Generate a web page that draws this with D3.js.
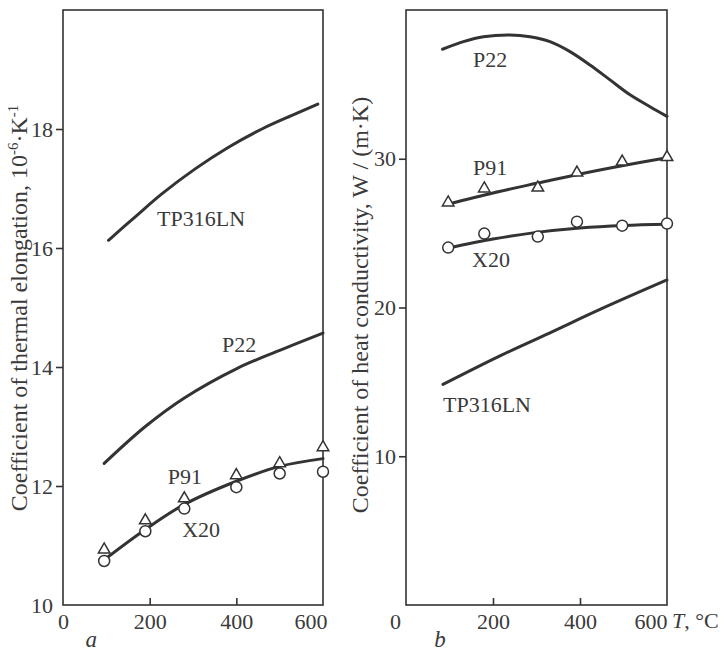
<!DOCTYPE html>
<html>
<head>
<meta charset="utf-8">
<script src="https://cdn.jsdelivr.net/npm/d3@7"></script>
<style>
  body { margin: 0; background: #fff; }
  text { font-family: "Liberation Serif", "DejaVu Serif", serif; fill: #3a3a3a; }
</style>
</head>
<body>
<div id="chart"></div>
<script>
// ---- data ----
// panel a: thermal elongation, 10^-6 K^-1
var tpTempA  = [105, 166, 228, 305, 381, 459, 535, 588];
var tpValA   = [16.13, 16.52, 16.91, 17.33, 17.69, 18.0, 18.25, 18.42];
var p22TempA = [95, 190, 280, 400, 500, 600];
var p22ValA  = [12.38, 13.0, 13.48, 13.97, 14.28, 14.57];
var fitTempA = [95, 190, 280, 400, 500, 600];
var fitValA  = [10.76, 11.27, 11.69, 12.08, 12.33, 12.46];
var markTempA = [95, 190, 280, 400, 500, 600];
var p91ValA  = [10.93, 11.42, 11.79, 12.18, 12.38, 12.65];
var x20ValA  = [10.74, 11.24, 11.62, 11.98, 12.21, 12.24];

// panel b: heat conductivity, W/(m K)
var p22TempB = [84, 132, 178, 239, 285, 331, 377, 423, 469, 515, 561, 600];
var p22ValB  = [37.36, 37.87, 38.2, 38.32, 38.2, 37.87, 37.2, 36.3, 35.3, 34.3, 33.5, 32.85];
var tpTempB  = [85, 216, 331, 446, 600];
var tpValB   = [14.83, 16.75, 18.3, 19.87, 21.85];
var fitTemp  = [97, 200, 300, 400, 500, 600];
var p91FitB  = [26.95, 27.7, 28.35, 28.98, 29.55, 30.07];
var x20FitB  = [24.0, 24.6, 25.05, 25.35, 25.52, 25.6];
var markTempB = [97, 180, 303, 393, 497, 600];
var p91ValB  = [27.05, 27.99, 28.05, 29.06, 29.8, 30.1];
var x20ValB  = [24.03, 24.97, 24.77, 25.77, 25.5, 25.64];

var xTicks = [0, 200, 400, 600];
var yTicksA = [10, 12, 14, 16, 18];
var yTicksB = [10, 20, 30];

var ink = "#333";
var width = 727, height = 654;
var plotTop = 10, plotBottom = 605;

var svg = d3.select("#chart")
  .append("svg")
    .attr("width", width)
    .attr("height", height);

function zip(xs, ys) {
  return xs.map(function (d, i) { return [d, ys[i]]; });
}

function drawPanel(p) {
  var x = d3.scaleLinear().domain([0, 600]).range([p.left, p.right]);
  var y = d3.scaleLinear().domain(p.yDomain).range([plotBottom, plotTop]);
  var g = svg.append("g");

  // frame
  g.append("rect")
    .attr("x", p.left).attr("y", plotTop)
    .attr("width", p.right - p.left).attr("height", plotBottom - plotTop)
    .attr("fill", "none").attr("stroke", ink).attr("stroke-width", 1.6);

  // X axis, ticks pointing in
  var xa = g.append("g")
    .attr("transform", "translate(0," + plotBottom + ")")
    .call(d3.axisBottom(x).tickValues(xTicks).tickSizeInner(-7).tickSizeOuter(0).tickPadding(8));
  xa.select(".domain").remove();
  xa.selectAll("line").attr("stroke", ink).attr("stroke-width", 1.6);
  xa.selectAll(".tick").filter(function (d) { return d === 0 || d === 600; }).select("line").remove();
  xa.selectAll("text").attr("font-size", 22).attr("fill", "#3a3a3a").attr("font-family", null);
  xa.selectAll(".tick").filter(function (d) { return d === 600; }).select("text")
    .attr("text-anchor", "end").attr("dx", p.endShift);
  xa.selectAll(".tick").filter(function (d) { return d === 0; }).select("text")
    .attr("dx", p.zeroShift);

  // Y axis
  var ya = g.append("g")
    .attr("transform", "translate(" + p.left + ",0)")
    .call(d3.axisLeft(y).tickValues(p.yTicks).tickSizeOuter(0).tickSize(7).tickPadding(3));
  ya.select(".domain").remove();
  ya.selectAll("line").attr("stroke", ink).attr("stroke-width", 1.6);
  ya.selectAll(".tick").filter(function (d) { return d === p.yDomain[0]; }).select("line").remove();
  ya.selectAll("text").attr("font-size", 22).attr("fill", "#3a3a3a").attr("font-family", null);

  var line = d3.line()
    .x(function (d) { return x(d[0]); })
    .y(function (d) { return y(d[1]); })
    .curve(d3.curveCatmullRom.alpha(0.5));

  p.curves.forEach(function (c) {
    g.append("path")
      .datum(c)
      .attr("d", line)
      .attr("fill", "none")
      .attr("stroke", ink)
      .attr("stroke-width", 3)
      .attr("stroke-linecap", "round");
  });

  // triangles
  g.selectAll(null)
    .data(p.triangles)
    .enter()
    .append("path")
      .attr("d", d3.symbol(d3.symbolTriangle).size(58))
      .attr("transform", function (d) { return "translate(" + x(d[0]) + "," + y(d[1]) + ")"; })
      .attr("fill", "#fff").attr("stroke", ink).attr("stroke-width", 1.5);

  // circles
  g.selectAll(null)
    .data(p.circles)
    .enter()
    .append("circle")
      .attr("cx", function (d) { return x(d[0]); })
      .attr("cy", function (d) { return y(d[1]); })
      .attr("r", 5.5)
      .attr("fill", "#fff").attr("stroke", ink).attr("stroke-width", 1.5);

  // curve labels
  p.labels.forEach(function (l) {
    g.append("text")
      .attr("x", x(l[1]))
      .attr("y", y(l[2]))
      .attr("font-size", 22)
      .text(l[0]);
  });

  // Y axis title
  var t = g.append("text")
    .attr("transform", "translate(" + p.titleX + "," + p.titleY + ") rotate(-90)")
    .attr("text-anchor", "middle")
    .attr("font-size", 24);
  p.title(t);

  // panel letter
  g.append("text")
    .attr("x", x(p.letterAt))
    .attr("y", 647)
    .attr("text-anchor", "middle")
    .attr("font-size", 23)
    .attr("font-style", "italic")
    .text(p.letter);

  return x;
}

drawPanel({
  left: 63, right: 323,
  yDomain: [10, 20], yTicks: yTicksA,
  zeroShift: 0, endShift: 4,
  curves: [zip(tpTempA, tpValA), zip(p22TempA, p22ValA), zip(fitTempA, fitValA)],
  triangles: zip(markTempA, p91ValA),
  circles: zip(markTempA, x20ValA),
  labels: [["TP316LN", 217, 16.37], ["P22", 367, 14.25], ["P91", 242, 12.03], ["X20", 275, 11.14]],
  titleX: 27, titleY: 308,
  title: function (t) {
    t.append("tspan").text("Coefficient of thermal elongation, 10");
    t.append("tspan").attr("dy", -9).attr("font-size", 15).text("-6");
    t.append("tspan").attr("dy", 9).text("\u00b7K");
    t.append("tspan").attr("dy", -9).attr("font-size", 15).text("-1");
  },
  letter: "a", letterAt: 65
});

var xB = drawPanel({
  left: 406, right: 667,
  yDomain: [0, 40], yTicks: yTicksB,
  zeroShift: -11, endShift: 0,
  curves: [zip(p22TempB, p22ValB), zip(tpTempB, tpValB), zip(fitTemp, p91FitB), zip(fitTemp, x20FitB)],
  triangles: zip(markTempB, p91ValB),
  circles: zip(markTempB, x20ValB),
  labels: [["P22", 154, 36.17], ["P91", 154, 28.93], ["X20", 152, 22.75], ["TP316LN", 85, 12.95]],
  titleX: 368, titleY: 305,
  title: function (t) {
    t.text("Coefficient of heat conductivity, W / (m\u00b7K)");
  },
  letter: "b", letterAt: 78
});

// X axis unit after the last tick of panel b
var unit = svg.append("text")
  .attr("x", xB(600) + 5)
  .attr("y", 628)
  .attr("font-size", 22);
unit.append("tspan").attr("font-style", "italic").text("T");
unit.append("tspan").text(", \u00b0C");
</script>
</body>
</html>
